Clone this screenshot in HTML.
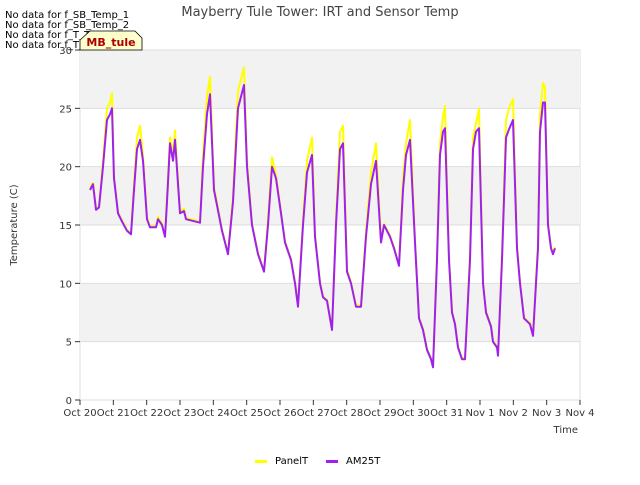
<!DOCTYPE html>
<html><head><meta charset="utf-8"><style>
body{margin:0;background:#fff;font-family:"Liberation Sans","DejaVu Sans",sans-serif;}
svg text{font-family:"DejaVu Sans","Liberation Sans",sans-serif;}
</style></head><body>
<svg id="chart" width="640" height="480" viewBox="0 0 640 480">
<rect width="640" height="480" fill="#fff"/>
<g id="bands"></g>
<g id="grid"></g>
<g id="series"></g>
<g id="axes"></g>
<text x="320" y="16" text-anchor="middle" font-size="13" fill="#444">Mayberry Tule Tower: IRT and Sensor Temp</text>
<text transform="translate(17,225) rotate(-90)" text-anchor="middle" font-size="10" fill="#333">Temperature (C)</text>
<text x="578" y="433" text-anchor="end" font-size="10" fill="#333">Time</text>
<g font-size="10" fill="#000">
<text x="5" y="18">No data for f_SB_Temp_1</text>
<text x="5" y="28">No data for f_SB_Temp_2</text>
<text x="5" y="38">No data for f_T_Temp_1</text>
<text x="5" y="48">No data for f_T_Temp_2</text>
</g>
<g>
<path d="M80,50 L80,40 L90,31 L135,31 L142,38 L142,50 Z" fill="#ffffcc" stroke="#000" stroke-width="0.8"/>
<text x="111" y="46" text-anchor="middle" font-size="11" font-weight="bold" fill="#a00">MB_tule</text>
</g>
<g id="legend">
<rect x="255" y="460" width="12" height="3" fill="#ffff00"/>
<text x="275" y="464" font-size="10" fill="#000">PanelT</text>
<rect x="326" y="460" width="12" height="3" fill="#a020f0"/>
<text x="346" y="464" font-size="10" fill="#000">AM25T</text>
</g>
</svg>
<script>
const xTickLabels=["Oct 20","Oct 21","Oct 22","Oct 23","Oct 24","Oct 25","Oct 26","Oct 27","Oct 28","Oct 29","Oct 30","Oct 31","Nov 1","Nov 2","Nov 3","Nov 4"];
const yTicks=[0,5,10,15,20,25,30];
const times=[20.30,20.39,20.48,20.57,20.69,20.81,20.90,20.96,21.02,21.14,21.26,21.41,21.53,21.62,21.71,21.80,21.89,22.01,22.10,22.28,22.34,22.46,22.55,22.61,22.70,22.79,22.85,23.00,23.12,23.18,23.60,23.69,23.81,23.90,24.02,24.26,24.44,24.59,24.74,24.92,25.01,25.16,25.34,25.52,25.64,25.76,25.88,26.03,26.15,26.33,26.45,26.54,26.69,26.81,26.96,27.05,27.20,27.29,27.41,27.56,27.68,27.80,27.89,28.01,28.13,28.28,28.43,28.58,28.73,28.88,29.03,29.12,29.30,29.42,29.57,29.69,29.78,29.90,30.05,30.17,30.29,30.41,30.53,30.59,30.71,30.80,30.89,30.95,31.07,31.16,31.25,31.34,31.46,31.55,31.70,31.79,31.88,31.97,32.09,32.18,32.33,32.39,32.51,32.54,32.66,32.78,32.87,32.99,33.11,33.20,33.32,33.50,33.59,33.74,33.80,33.89,33.95,34.04,34.13,34.19,34.25];
const am25t=[18,18.5,16.3,16.5,20,24,24.5,25,19,16,15.3,14.5,14.2,18,21.5,22.3,20.5,15.5,14.8,14.8,15.5,15,14,17,22,20.5,22.3,16,16.2,15.5,15.2,20,24.5,26.2,18,14.5,12.5,17,25,27,20,15,12.5,11,15,20,19,16,13.5,12,10,8,15,19.5,21,14,10,8.8,8.5,6,15,21.5,22,11,10,8,8,14,18.5,20.5,13.5,15,14,13,11.5,18,21,22.3,13.5,7,6,4.3,3.5,2.8,12,21,23,23.3,12,7.5,6.5,4.5,3.5,3.5,12,21.5,23,23.3,10,7.5,6.3,5,4.5,3.8,12,22.5,23.2,24,13,10,7,6.5,5.5,13,23,25.5,25.5,15,13,12.5,13];
const panelT=[18.2,18.6,16.4,16.6,20.5,25,25.5,26.3,19.2,16.1,15.4,14.6,14.3,18.5,22.5,23.5,21,15.6,14.9,14.9,15.7,15.1,14.1,17.5,22.5,21,23.1,16.2,16.4,15.6,15.3,21,26,27.7,18.3,14.6,12.6,17.5,26.5,28.5,20.5,15.1,12.6,11.1,15.5,20.8,19.3,16.1,13.6,12.1,10.1,8.1,15.5,20.5,22.5,14.2,10.1,8.9,8.6,6.1,15.5,23,23.5,11.2,10.1,8.1,8.1,14.5,19.5,22,13.7,15.1,14.1,13.1,11.6,19,22,24,13.7,7.1,6.1,4.4,3.6,2.9,12.5,22,24.3,25.2,12.2,7.6,6.6,4.6,3.6,3.6,12.5,22.5,23.7,25,10.2,7.6,6.4,5.1,4.6,3.9,12.5,24,25,25.8,13.2,10.1,7.1,6.6,5.6,13.5,24.5,27.2,26.8,15.2,13.1,12.6,13.1];

const L=80,R=580,T=50,B=400,d0=20,d1=35,ymax=30;
const xs=d=>L+(d-d0)*(R-L)/(d1-d0);
const ys=v=>B-v*(B-T)/ymax;
const NS="http://www.w3.org/2000/svg";
function mk(tag,attrs,parent){const e=document.createElementNS(NS,tag);for(const k in attrs)e.setAttribute(k,attrs[k]);parent.appendChild(e);return e;}
const bands=document.getElementById('bands'),grid=document.getElementById('grid'),axes=document.getElementById('axes'),series=document.getElementById('series');
mk('rect',{x:L,y:T,width:R-L,height:B-T,fill:'#fff',stroke:'#ddd'},bands);
for(let i=0;i<yTicks.length-1;i+=2){
  const r=mk('rect',{x:L,y:ys(yTicks[i+1]+5),width:R-L,height:ys(yTicks[i+1])-ys(yTicks[i+1]+5),fill:'#f2f2f2'},bands);
  
  
}
yTicks.forEach(v=>{
  const g=mk('line',{x1:L,x2:R,y1:ys(v),y2:ys(v),stroke:'#ddd','stroke-width':1},grid);
  
  
  const t=mk('text',{x:L-8,y:ys(v)+4,'text-anchor':'end','font-size':10,fill:'#333'},axes);
  t.textContent=v;
  
  
  mk('line',{x1:L-5,x2:L,y1:ys(v),y2:ys(v),stroke:'#333'},axes);
});
xTickLabels.forEach((lab,i)=>{
  const x=xs(d0+i);
  mk('line',{x1:x,x2:x,y1:B,y2:B+5,stroke:'#333'},axes);
  const t=mk('text',{x:x,y:B+16,'text-anchor':'middle','font-size':10,fill:'#333'},axes);
  t.textContent=lab;
  
  
});
function line(vals,color,name){
  const d=vals.map((v,i)=>(i?'L':'M')+xs(times[i]).toFixed(1)+','+ys(v).toFixed(1)).join(' ');
  const p=mk('path',{d:d,fill:'none',stroke:color,'stroke-width':2,'stroke-linejoin':'round'},series);
  
  
}
line(panelT,'#ffff00','panelt-line');
line(am25t,'#a020f0','am25t-line');
</script>
</body></html>
